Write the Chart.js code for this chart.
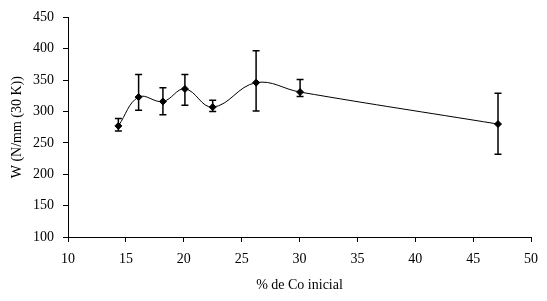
<!DOCTYPE html>
<html>
<head>
<meta charset="utf-8">
<script src="https://cdn.jsdelivr.net/npm/chart.js@4/dist/chart.umd.min.js"></script>
<style>
  html, body { margin: 0; padding: 0; background: #fff; }
  #wrap { width: 547px; height: 301px; }
</style>
</head>
<body>
<div id="wrap"><canvas id="wChart"></canvas></div>
<script>
// % de Co inicial vs W, with error bars
const coPercent = [14.35, 16.1, 18.2, 20.1, 22.5, 26.25, 30.05, 47.15];
const wValues = [277, 323, 316, 336, 307, 346, 331, 280];
const wHigh = [289, 359, 338, 359, 318, 397, 351, 329];
const wLow = [269, 302, 295, 310, 300, 301, 324, 232];
const xTicks = [10, 15, 20, 25, 30, 35, 40, 45, 50];
const yTicks = [100, 150, 200, 250, 300, 350, 400, 450];

const serif = "'Liberation Serif', 'Times New Roman', serif";

// draw the error bars with the chart scales
const errorBars = {
  id: "errorBars",
  afterDatasetsDraw(chart) {
    const ctx = chart.ctx;
    const xs = chart.scales.x;
    const ys = chart.scales.y;
    ctx.save();
    ctx.strokeStyle = "#000";
    ctx.lineWidth = 1.5;
    for (let i = 0; i < coPercent.length; i++) {
      const px = xs.getPixelForValue(coPercent[i]);
      const top = ys.getPixelForValue(wHigh[i]);
      const bot = ys.getPixelForValue(wLow[i]);
      ctx.beginPath();
      ctx.moveTo(px, top);
      ctx.lineTo(px, bot);
      ctx.moveTo(px - 3.5, top);
      ctx.lineTo(px + 3.5, top);
      ctx.moveTo(px - 3.5, bot);
      ctx.lineTo(px + 3.5, bot);
      ctx.stroke();
    }
    ctx.restore();
  },
};

const ctx = document.getElementById("wChart").getContext("2d");
const wChart = new Chart(ctx, {
  type: "scatter",
  data: {
    datasets: [
      {
        data: coPercent.map((x, i) => ({ x: x, y: wValues[i] })),
        showLine: true,
        borderColor: "#000",
        borderWidth: 1,
        tension: 0.4,
        pointStyle: "rectRot",
        pointRadius: 3.5,
        pointBackgroundColor: "#000",
        pointBorderColor: "#000",
      },
    ],
  },
  options: {
    responsive: true,
    maintainAspectRatio: false,
    animation: false,
    layout: { padding: { left: 0, top: 17, right: 16, bottom: 0 } },
    plugins: { legend: { display: false }, tooltip: { enabled: false } },
    scales: {
      x: {
        type: "linear",
        min: 10,
        max: 50,
        afterBuildTicks: (axis) => {
          axis.ticks = xTicks.map((v) => ({ value: v }));
        },
        afterFit: (axis) => {
          axis.height = 64;
        },
        grid: {
          drawOnChartArea: false,
          color: "#000",
          tickLength: 5,
          tickColor: "#000",
        },
        border: { color: "#000", width: 1 },
        ticks: {
          color: "#000",
          font: { family: serif, size: 14 },
          padding: 9,
          maxRotation: 0,
        },
        title: {
          display: true,
          text: "% de Co inicial",
          color: "#000",
          font: { family: serif, size: 14 },
          padding: { top: 0, bottom: 7 },
        },
      },
      y: {
        min: 100,
        max: 450,
        afterBuildTicks: (axis) => {
          axis.ticks = yTicks.map((v) => ({ value: v }));
        },
        afterFit: (axis) => {
          axis.width = 68;
        },
        grid: {
          drawOnChartArea: false,
          color: "#000",
          tickLength: 5,
          tickColor: "#000",
        },
        border: { color: "#000", width: 1 },
        ticks: {
          color: "#000",
          font: { family: serif, size: 14 },
          padding: 9,
        },
        title: {
          display: true,
          text: "W (N/mm (30 K))",
          color: "#000",
          font: { family: serif, size: 14 },
          padding: { top: 9, bottom: 0 },
        },
      },
    },
  },
  plugins: [errorBars],
});
</script>
</body>
</html>
